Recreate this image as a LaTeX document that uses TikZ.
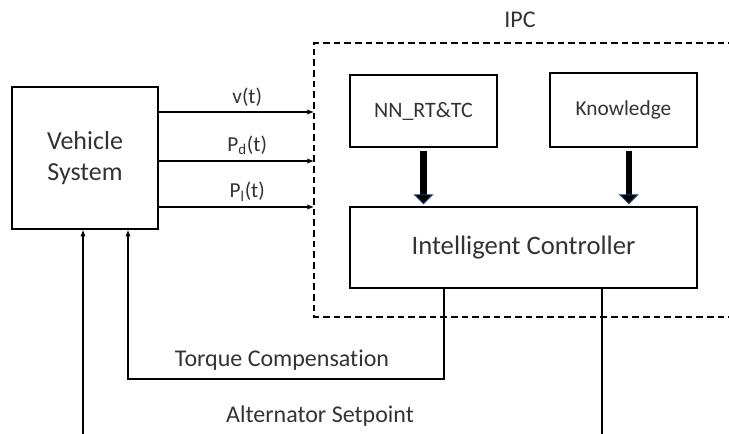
\documentclass[tikz,border=0pt]{standalone}
\usepackage{fontspec}
\setmainfont{Carlito}[Ligatures=NoCommon]
\usepackage{xcolor}
\usepackage{tikz}
\usetikzlibrary{positioning,arrows.meta}
\definecolor{txtgray}{HTML}{333333}
\definecolor{arrnavy}{HTML}{1F3864}
\tikzset{
  blockbox/.style={draw=black, line width=1.1pt, fill=white, text=txtgray,
                   inner sep=2pt, align=center},
  siglabel/.style={text=txtgray, inner sep=1pt},
  sigarrow/.style={-{Latex[length=5pt,width=4pt]}, line width=0.9pt},
  sigline/.style={line width=0.9pt},
  fatarrow/.style={line width=5pt, black,
                   -{Triangle[length=7.5pt,width=15pt,color=arrnavy,fill=black,line width=0.8pt]}},
  ipcbox/.style={line width=1pt, dash pattern=on 5pt off 3pt}
}

\begin{document}
\begin{tikzpicture}[x=0.75pt, y=-0.75pt]
  \useasboundingbox (0,0) rectangle (729,434);

  % --- IPC (dashed frame, open to the right) ---
  \coordinate (ipcNE) at (735,43);
  \coordinate (ipcNW) at (314,43);
  \coordinate (ipcSW) at (314,317);
  \coordinate (ipcSE) at (735,317);
  \draw[ipcbox] (ipcNE) -- (ipcNW) -- (ipcSW) -- (ipcSE);
  \node[siglabel, font=\fontsize{18}{20}\selectfont] (ipclbl) at (520,20) {IPC};

  % --- blocks ---
  \node[blockbox, minimum width=109.5pt, minimum height=106.5pt,
        font=\fontsize{19.5}{23.5}\selectfont] (vs) at (85,158) {Vehicle\\System};
  \node[blockbox, minimum width=110.25pt, minimum height=54pt,
        font=\fontsize{16.5}{19}\selectfont] (nn) at (423.5,111) {NN\_RT\&TC};
  \node[blockbox, minimum width=110.25pt, minimum height=55.5pt,
        font=\fontsize{16}{19}\selectfont] (kn) at (623.5,110) {Knowledge};
  \node[blockbox, minimum width=260.25pt, minimum height=60.75pt,
        font=\fontsize{20}{24}\selectfont] (ic) at (523.5,247.5) {Intelligent Controller};

  % --- measured signals into the IPC ---
  \draw[sigarrow] ([yshift=34.5pt]vs.east) -- ([yshift=34.5pt]vs.east -| ipcNW)
    node[siglabel, pos=0.57, above=3pt, font=\fontsize{16}{19}\selectfont] {v(t)};
  \draw[sigarrow] ([yshift=-2.25pt]vs.east) -- ([yshift=-2.25pt]vs.east -| ipcNW)
    node[siglabel, pos=0.57, above=3pt, font=\fontsize{16}{19}\selectfont] {P\textsubscript{d}(t)};
  \draw[sigarrow] ([yshift=-36.75pt]vs.east) -- ([yshift=-36.75pt]vs.east -| ipcNW)
    node[siglabel, pos=0.57, above=3pt, font=\fontsize{16}{19}\selectfont] {P\textsubscript{l}(t)};

  % --- inputs of the controller ---
  \draw[fatarrow] ([yshift=-2.5pt]nn.south) -- ([yshift=1.5pt]nn.south |- ic.north);
  \draw[fatarrow] ([xshift=4pt,yshift=-2.5pt]kn.south) -- ([xshift=4pt,yshift=1.5pt]kn.south |- ic.north);

  % --- torque compensation feedback ---
  \coordinate (tq) at (300,379);
  \draw[sigarrow] ([xshift=-59.6pt]ic.south) |- (tq) -| ([xshift=32.25pt]vs.south);
  \node[siglabel, font=\fontsize{18}{20}\selectfont] (tqlbl) at (282,360) {Torque Compensation};

  % --- alternator setpoint (runs off the bottom edge) ---
  \coordinate (altL) at (83,440);
  \coordinate (altR) at (0,440);
  \draw[sigline] ([xshift=58.9pt]ic.south) -- ([xshift=58.9pt]ic.south |- altR);
  \draw[sigarrow] (altL) -- (altL |- vs.south);
  \node[siglabel, font=\fontsize{18}{20}\selectfont] (altlbl) at (320,416) {Alternator Setpoint};

\end{tikzpicture}
\end{document}
